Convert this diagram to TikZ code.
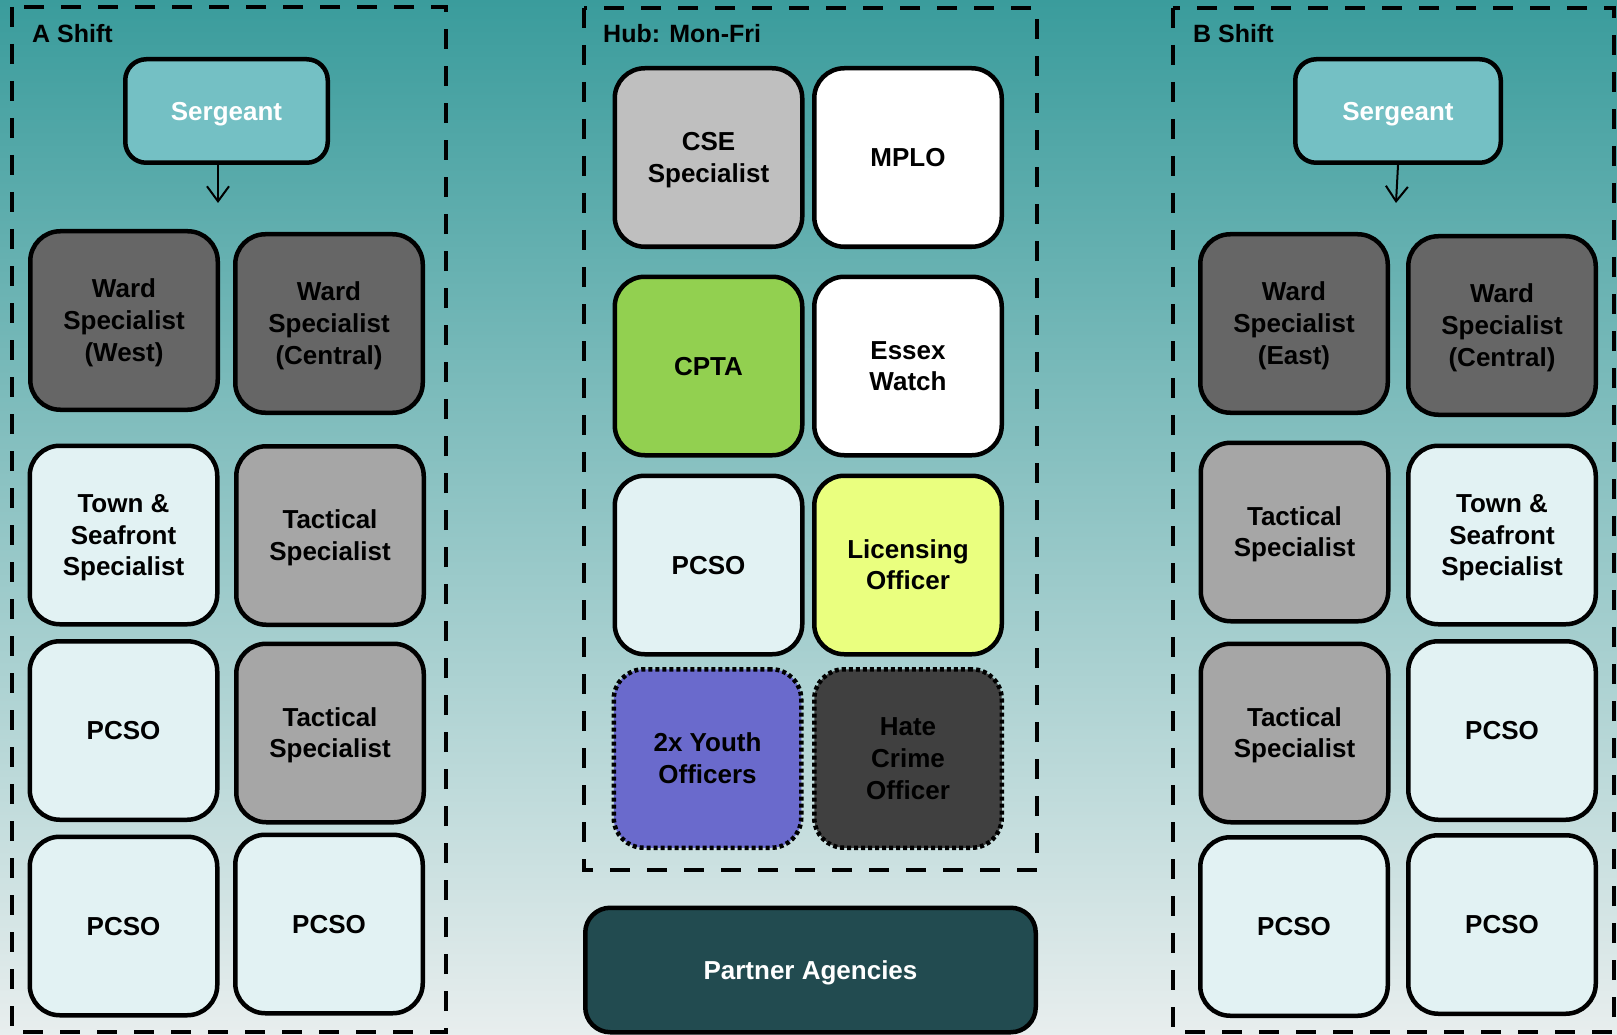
\documentclass[tikz,border=0pt]{standalone}
\usepackage{fontspec}
\setmainfont{Liberation Sans}
\usetikzlibrary{arrows.meta}
\definecolor{bgtop}{RGB}{58,156,156}
\definecolor{bgmid}{RGB}{137,188,188}
\definecolor{bgbot}{RGB}{232,238,238}
\definecolor{sgt}{RGB}{116,192,196}
\definecolor{ward}{RGB}{102,102,102}
\definecolor{tact}{RGB}{166,166,166}
\definecolor{pale}{RGB}{226,242,243}
\definecolor{cse}{RGB}{191,191,191}
\definecolor{cpta}{RGB}{146,208,80}
\definecolor{lic}{RGB}{234,255,127}
\definecolor{youth}{RGB}{106,106,204}
\definecolor{hate}{RGB}{64,64,64}
\definecolor{partner}{RGB}{34,75,80}
\newcommand\bs{\rule[-0.212em]{0pt}{1.117em}}
\begin{document}
\begin{tikzpicture}[x=1pt,y=-1pt,
  txt/.style={font=\bfseries\fontsize{26}{31.7}\selectfont, align=center},
  lbl/.style={font=\bfseries\fontsize{25}{30}\selectfont, inner sep=0pt, text=black},
  cell/.style={txt, draw=black, line width=4.5pt, rounded corners=30pt,
    minimum width=187.5pt, minimum height=178.5pt, inner sep=0pt, text=black},
  dotcell/.style={cell, dash pattern=on 4pt off 3pt},
  sgtbox/.style={txt, draw=black, line width=4.5pt, rounded corners=21pt, fill=sgt,
    minimum height=103.5pt, inner sep=0pt, text=white},
  frame/.style={draw=black, line width=4pt, dash pattern=on 20pt off 17pt},
  conn/.style={draw=black, line width=2pt, -{Straight Barb[length=15pt,width=22pt,line width=2pt]}}
]
\useasboundingbox (0,0) rectangle (1617,1035);
\shade[top color=bgtop, middle color=bgmid, bottom color=bgbot] (0,0) rectangle (1617,1035);

% frames
\draw[frame] (12,7) rectangle (446,1032);
\draw[frame] (584,8) rectangle (1037,870);
\draw[frame] (1173,8) rectangle (1614,1032);

\node[lbl, anchor=base west] (labA) at (32,43) {A Shift};
\node[lbl, anchor=base west] (labH) at (603,43) {Hub: Mon-Fri};
\node[lbl, anchor=base west] (labB) at (1193,43) {B Shift};

% A shift
\node[sgtbox, minimum width=202.5pt] (sgA) at (226.5,111) {\bs Sergeant};
\coordinate (aA) at (218,203);
\draw[conn] (sgA.south -| aA) -- (aA);
\node[cell, fill=ward] (wardW) at (124,320.5) {\bs Ward\\Specialist\\(West)\bs};
\node[cell, fill=ward] (wardCA) at (329,323.5) {\bs Ward\\Specialist\\(Central)\bs};
\node[cell, fill=pale] (townA) at (123.5,535) {\bs Town \&\\Seafront\\Specialist\bs};
\node[cell, fill=tact] (tacA2) at (330,535.5) {\bs Tactical\\Specialist\bs};
\node[cell, fill=pale] (pcsoA3) at (123.5,730.5) {\bs PCSO};
\node[cell, fill=tact] (tacA3) at (330,733) {\bs Tactical\\Specialist\bs};
\node[cell, fill=pale] (pcsoA4L) at (123.5,926) {\bs PCSO};
\node[cell, fill=pale] (pcsoA4R) at (329,924) {\bs PCSO};

% Hub
\node[cell, fill=cse] (cse) at (708.5,157.5) {\bs CSE\\Specialist\bs};
\node[cell, fill=white] (mplo) at (908,157.5) {\bs MPLO};
\node[cell, fill=cpta] (cpta) at (708.5,366) {\bs CPTA};
\node[cell, fill=white] (essex) at (908,366) {\bs Essex\\Watch\bs};
\node[cell, fill=pale] (pcsoH) at (708.5,565) {\bs PCSO};
\node[cell, fill=lic] (lic) at (908,565) {\bs Licensing\\Officer\bs};
\node[dotcell, fill=youth] (youth) at (707.5,758.5) {\bs 2x Youth\\Officers\bs};
\node[dotcell, fill=hate] (hate) at (908,758.5) {\bs Hate\\Crime\\Officer\bs};
\node[txt, draw=black, line width=4.5pt, rounded corners=25pt, fill=partner, text=white,
  minimum width=450.5pt, minimum height=124.5pt, inner sep=0pt] (partner) at (810.5,970) {\bs Partner Agencies};

% B shift
\node[sgtbox, minimum width=205.5pt] (sgB) at (1398,111) {\bs Sergeant};
\coordinate (aB) at (1396,203);
\draw[conn] (sgB.south) -- (aB);
\node[cell, fill=ward] (wardE) at (1294,323.5) {\bs Ward\\Specialist\\(East)\bs};
\node[cell, fill=ward] (wardCB) at (1502,325.5) {\bs Ward\\Specialist\\(Central)\bs};
\node[cell, fill=tact] (tacB2) at (1294.5,532) {\bs Tactical\\Specialist\bs};
\node[cell, fill=pale] (townB) at (1502,535) {\bs Town \&\\Seafront\\Specialist\bs};
\node[cell, fill=tact] (tacB3) at (1294.5,733) {\bs Tactical\\Specialist\bs};
\node[cell, fill=pale] (pcsoB3) at (1502,730.5) {\bs PCSO};
\node[cell, fill=pale] (pcsoB4L) at (1294,926.5) {\bs PCSO};
\node[cell, fill=pale] (pcsoB4R) at (1502,924.5) {\bs PCSO};
\end{tikzpicture}
\end{document}
